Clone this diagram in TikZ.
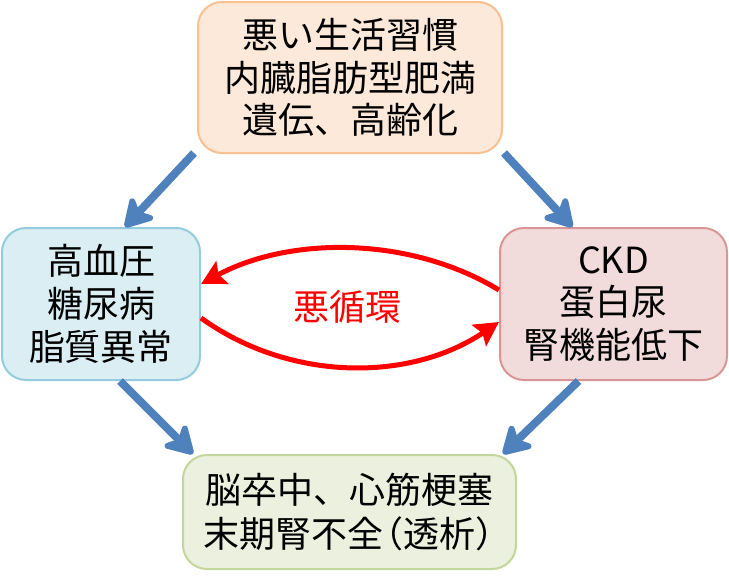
\documentclass[tikz,border=0pt]{standalone}
\usepackage{fontspec}
\setmainfont{Noto Sans CJK JP}
\usetikzlibrary{arrows.meta,calc}
\definecolor{topfill}{HTML}{FDE9D9}
\definecolor{topline}{HTML}{FAC090}
\definecolor{leftfill}{HTML}{DAEEF3}
\definecolor{leftline}{HTML}{93CDDD}
\definecolor{rightfill}{HTML}{F2DCDB}
\definecolor{rightline}{HTML}{D99694}
\definecolor{botfill}{HTML}{EBF1DE}
\definecolor{botline}{HTML}{C3D69B}
\definecolor{arrowblue}{HTML}{4F81BD}
\definecolor{cyclered}{HTML}{FF0000}
\newcommand{\lpar}{\makebox[0.55em][r]{（}}
\newcommand{\rpar}{\makebox[0.55em][l]{）}}
\begin{document}
\begin{tikzpicture}[x=0.75pt,y=-0.75pt,
  box/.style={rounded corners=18pt, line width=1.5pt, align=center, inner sep=0pt,
    font=\fontsize{27}{32}\selectfont},
  bluearrow/.style={draw=arrowblue, line width=6pt,
    -{Stealth[length=25pt,width=29pt,inset=7pt,round]}},
  redarrow/.style={draw=cyclered, line width=3.75pt,
    -{Stealth[length=18pt,width=19pt,inset=3pt]}},
  cyclelabel/.style={text=cyclered, font=\fontsize{27}{32}\selectfont}]
\useasboundingbox (0,0) rectangle (729,579);
\node[box, fill=topfill, draw=topline, minimum width=228pt, minimum height=113.25pt]
  (top) at (350,77.5) {悪い生活習慣\\内臓脂肪型肥満\\遺伝、高齢化};
\node[box, fill=leftfill, draw=leftline, minimum width=148.5pt, minimum height=114pt]
  (left) at (101,304) {高血圧\\糖尿病\\脂質異常};
\node[box, fill=rightfill, draw=rightline, minimum width=170.25pt, minimum height=114pt]
  (right) at (613.5,304) {CKD\\蛋白尿\\腎機能低下};
\node[box, fill=botfill, draw=botline, minimum width=249.75pt, minimum height=85.5pt,
  font=\fontsize{27}{33.5}\selectfont]
  (bottom) at (349.5,512) {脳卒中、心筋梗塞\\末期腎不全\lpar 透析\rpar};
\node[cyclelabel] (cycle) at (347,307) {悪循環};
\draw[bluearrow] ($(top.south west)+(-3,-1)$) -- ($(left.north)+(24,0)$);
\draw[bluearrow] ($(top.south east)+(1,-1)$) -- ($(right.north)+(-41,0)$);
\draw[bluearrow] ($(left.south)+(19,0)$) -- ($(bottom.north west)+(11,0)$);
\draw[bluearrow] ($(right.south)+(-35,0)$) -- ($(bottom.north east)+(-14,0)$);
\draw[redarrow] ($(right.west)+(0,-14)$) .. controls (410,236) and (290,236) .. ($(left.east)+(0,-20)$);
\draw[redarrow] ($(left.east)+(0,14)$) .. controls (290,382) and (410,382) .. ($(right.west)+(0,18)$);
\end{tikzpicture}
\end{document}
